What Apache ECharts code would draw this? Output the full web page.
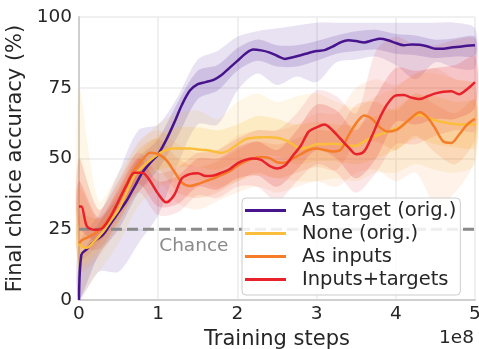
<!DOCTYPE html>
<html>
<head>
<meta charset="utf-8">
<script src="https://cdn.jsdelivr.net/npm/echarts@6/dist/echarts.min.js"></script>
<style>
  html, body { margin: 0; padding: 0; background: #fff; }
  #chart { width: 479px; height: 349px; }
</style>
</head>
<body>
<div id="chart"></div>
<script>
// Training steps (units of 1e8) at which the mean curves are sampled
const steps = [0, 0.03, 0.1, 0.2, 0.3, 0.4, 0.5, 0.6, 0.7, 0.8, 0.9, 1.0,
  1.1, 1.2, 1.3, 1.4, 1.5, 1.6, 1.7, 1.8, 1.9, 2.0,
  2.1, 2.2, 2.3, 2.4, 2.5, 2.6, 2.7, 2.8, 2.9, 3.0,
  3.1, 3.2, 3.3, 3.4, 3.5, 3.6, 3.7, 3.8, 3.9, 4.0,
  4.1, 4.2, 4.3, 4.4, 4.5, 4.6, 4.7, 4.8, 4.9, 5.0];

// Mean final choice accuracy (%)
const asTarget = [0, 16, 18, 21, 23, 27, 31, 35, 40, 45, 48.5, 51.5,
  56.5, 62.5, 69, 74, 76.3, 77, 77.8, 79.5, 82, 84.5,
  87, 88.5, 88.2, 87.5, 86.3, 85.2, 85.8, 86.5, 87.3, 88,
  88.3, 89.5, 91, 91.8, 91.5, 91, 91.7, 92.3, 91.8, 90.8,
  90, 90.3, 90.2, 89.6, 88.8, 88.8, 89.2, 89.5, 89.8, 90];
const none = [20, 19, 18.5, 21, 24, 28, 32, 38, 44, 47, 49.5, 51.5,
  53, 53.5, 53.5, 53.5, 53.2, 53, 52.5, 52, 53, 55,
  56.8, 57.3, 57.5, 57.5, 57.3, 56.5, 55, 53.5, 54, 55,
  55, 55.2, 55, 54.5, 54.5, 56, 57.5, 58.5, 59.5, 60.5,
  62, 64.5, 65.5, 64.5, 63.5, 62.8, 62.3, 62, 62, 62];
const asInputs = [20, 21, 22, 23.5, 26, 30, 35, 41, 46, 49.5, 52, 51.5,
  49.5, 45.5, 41.5, 40.3, 41, 42, 43, 44.2, 45.5, 47.5,
  49, 50, 50.5, 50.2, 48.7, 48.5, 50, 51.5, 53, 53.5,
  53, 52.5, 53, 58, 62.5, 65.2, 64, 61, 59.5, 60,
  62, 64.5, 66.3, 64.5, 60.5, 56, 55.5, 58.5, 62, 64];
const inputsTargets = [33, 33, 26, 24.8, 25.5, 29.5, 35, 40.5, 45, 45, 42, 37.5,
  34.5, 37, 43, 44.5, 44.8, 43.8, 44, 45, 46.2, 48.3,
  49.5, 50, 49.5, 47.5, 46.5, 47.5, 51, 54.5, 59.5, 61,
  62, 60, 57, 54, 51.5, 52.5, 58, 64.5, 69.5, 72.3,
  72.4, 71.5, 71, 72, 73, 73.6, 73.8, 72.7, 74.5, 77];

// Spread across seeds, sampled more coarsely
const bandSteps = [0, 0.25, 0.5, 0.75, 1, 1.25, 1.5, 1.75, 2, 2.25, 2.5,
  2.75, 3, 3.25, 3.5, 3.75, 4, 4.25, 4.5, 4.75, 5];

const asTargetInnerLo = [0, 16, 25, 38, 46, 58, 71, 74, 81, 84.5, 82.5, 82.5, 84.5, 87, 88, 88.5, 87, 86.5, 85.5, 86, 86.5];
const asTargetInnerHi = [12, 27, 37, 50, 57, 70, 81, 83, 89, 92, 90, 90, 91.5, 93.5, 95, 95.5, 94, 93.5, 92, 92.5, 93];
const asTargetOuterLo = [0, 10, 10, 20, 30, 48, 62, 62, 74, 80, 76, 79, 77, 84, 85, 86, 83, 78, 84, 82, 82];
const asTargetOuterHi = [20, 30, 45, 60, 62, 72, 85, 88, 93, 95, 96, 97, 98, 98, 98, 98, 98, 98, 98, 98, 96];

const noneInnerLo = [12, 17, 27, 40, 46, 47, 47, 46, 49, 51, 51, 48, 49, 49, 48, 50, 53, 57, 55, 54, 54];
const noneInnerHi = [40, 28, 38, 51, 58, 61, 61, 60, 62, 65, 64, 62, 63, 62, 62, 65, 68, 72, 72, 70, 70];
const noneOuterLo = [2, 10, 20, 33, 40, 42, 42, 40, 42, 44, 43, 42, 42, 43, 42, 45, 45, 48, 46, 45, 48];
const noneOuterHi = [75, 35, 45, 55, 62, 66, 67, 64, 70, 73, 70, 72, 73, 70, 68, 72, 75, 80, 80, 78, 76];

const asInputsInnerLo = [14, 20, 30, 43, 46, 38, 36, 38, 42, 45, 43, 45, 47, 46, 55, 56, 53, 58, 52, 48, 57];
const asInputsInnerHi = [30, 29, 40, 53, 57, 50, 47, 49, 53, 56, 55, 57, 60, 60, 69, 70, 67, 73, 69, 66, 71];
const asInputsOuterLo = [10, 15, 27, 38, 42, 34, 32, 35, 38, 40, 38, 40, 42, 40, 45, 46, 42, 45, 34, 38, 50];
const asInputsOuterHi = [50, 32, 42, 56, 60, 55, 52, 53, 58, 60, 60, 62, 66, 66, 75, 78, 76, 80, 82, 78, 76];

const inputsTargetsInnerLo = [26, 21, 31, 41, 33, 34, 40, 39, 43, 44, 40, 46, 53, 50, 43, 50, 63, 62, 64, 64, 68];
const inputsTargetsInnerHi = [42, 29, 39, 50, 42, 44, 50, 50, 54, 56, 53, 60, 69, 67, 60, 72, 82, 81, 82, 83, 86];
const inputsTargetsOuterLo = [20, 18, 28, 38, 30, 31, 37, 36, 40, 40, 35, 42, 48, 45, 38, 45, 55, 55, 58, 60, 60];
const inputsTargetsOuterHi = [50, 32, 42, 52, 45, 47, 52, 53, 57, 60, 60, 66, 74, 72, 66, 88, 93, 90, 90, 92, 92];

const chanceLevel = 25;
const xTicks = [0, 1, 2, 3, 4, 5];
const yTicks = [0, 25, 50, 75, 100];

const FONT = 'DejaVu Sans';
const TEXT = '#262626';

const curves = [
  { name: 'As target (orig.)', values: asTarget, color: '#47148d',
    inner: [asTargetInnerLo, asTargetInnerHi], outer: [asTargetOuterLo, asTargetOuterHi],
    innerFill: 'rgba(100,60,165,0.20)', outerFill: 'rgba(100,60,165,0.15)' },
  { name: 'None (orig.)', values: none, color: '#fbbd3c',
    inner: [noneInnerLo, noneInnerHi], outer: [noneOuterLo, noneOuterHi],
    innerFill: 'rgba(250,190,60,0.20)', outerFill: 'rgba(250,190,60,0.12)' },
  { name: 'As inputs', values: asInputs, color: '#f57c28',
    inner: [asInputsInnerLo, asInputsInnerHi], outer: [asInputsOuterLo, asInputsOuterHi],
    innerFill: 'rgba(245,125,40,0.16)', outerFill: 'rgba(245,125,40,0.10)' },
  { name: 'Inputs+targets', values: inputsTargets, color: '#e8212a',
    inner: [inputsTargetsInnerLo, inputsTargetsInnerHi], outer: [inputsTargetsOuterLo, inputsTargetsOuterHi],
    innerFill: 'rgba(230,40,50,0.18)', outerFill: 'rgba(230,40,50,0.11)' }
];

// Shaded spread as a closed polygon placed through the axes' coordinate system
function band(lo, hi, fill) {
  return {
    type: 'custom',
    silent: true,
    z: 1,
    data: bandSteps.map((x, i) => [x, lo[i], hi[i]]),
    encode: { x: 0, y: [1, 2] },
    renderItem: function (params, api) {
      if (params.dataIndex !== 0) return null;
      const upper = bandSteps.map((x, i) => api.coord([x, hi[i]]));
      const lower = bandSteps.map((x, i) => api.coord([x, lo[i]])).reverse();
      return {
        type: 'polygon',
        shape: { points: upper.concat(lower), smooth: 0.3 },
        style: { fill: fill }
      };
    }
  };
}

const series = [];
curves.forEach(c => {
  series.push(band(c.outer[0], c.outer[1], c.outerFill));
  series.push(band(c.inner[0], c.inner[1], c.innerFill));
});

// Chance level
series.push({
  type: 'line',
  silent: true,
  z: 2,
  data: [[xTicks[0], chanceLevel], [xTicks[xTicks.length - 1], chanceLevel]],
  showSymbol: false,
  lineStyle: { color: '#8a8a8a', width: 3, type: [11, 5] }
});

curves.forEach(c => {
  series.push({
    name: c.name,
    type: 'line',
    z: 3,
    data: steps.map((x, i) => [x, c.values[i]]),
    showSymbol: false,
    smooth: 0.3,
    color: c.color,
    lineStyle: { color: c.color, width: 2.5 }
  });
});

const chart = echarts.init(document.getElementById('chart'), null, { renderer: 'canvas' });

const axisCommon = {
  type: 'value',
  axisLine: { show: true, lineStyle: { color: '#cfcfcf', width: 2 } },
  axisTick: { show: false },
  splitLine: { show: true, lineStyle: { color: '#ebebeb', width: 1.5 } },
  axisLabel: { color: TEXT, fontFamily: FONT, fontSize: 18.5 },
  nameLocation: 'middle',
  nameTextStyle: { color: TEXT, fontFamily: FONT, fontSize: 21 }
};

chart.setOption({
  animation: false,
  backgroundColor: '#ffffff',
  grid: { left: 79, right: 4, top: 17, bottom: 49, containLabel: false, outerBoundsMode: 'none' },
  xAxis: Object.assign({}, axisCommon, {
    min: xTicks[0], max: xTicks[xTicks.length - 1], interval: 1,
    name: 'Training steps', nameGap: 24,
    axisLabel: Object.assign({}, axisCommon.axisLabel, { margin: 5 })
  }),
  yAxis: Object.assign({}, axisCommon, {
    min: yTicks[0], max: yTicks[yTicks.length - 1], interval: 25,
    name: 'Final choice accuracy (%)', nameGap: 45,
    axisLabel: Object.assign({}, axisCommon.axisLabel, { margin: 7 })
  }),
  legend: {
    data: curves.map(c => c.name),
    orient: 'vertical',
    left: 242, top: 198,
    icon: 'rect',
    itemWidth: 41, itemHeight: 3,
    itemGap: 0,
    padding: [1, 4, 4, 3],
    backgroundColor: 'rgba(255,255,255,0.85)',
    borderColor: '#cccccc', borderWidth: 1, borderRadius: 4,
    textStyle: { color: TEXT, fontFamily: FONT, fontSize: 19.5, lineHeight: 23, padding: [0, 0, 0, 11] }
  },
  series: series
});

// Annotations placed from data coordinates
const chancePos = chart.convertToPixel({ gridIndex: 0 }, [1.45, chanceLevel]);
chart.setOption({
  graphic: [
    { type: 'text', z: 2, x: chancePos[0], y: chancePos[1] + 17,
      style: { text: 'Chance', fill: '#8a8a8a', font: '18.5px "' + FONT + '"', align: 'center', verticalAlign: 'middle' } },
    { type: 'text', x: 474, y: 338,
      style: { text: '1e8', fill: TEXT, font: '18.5px "' + FONT + '"', align: 'right', verticalAlign: 'middle' } }
  ]
});
</script>
</body>
</html>
